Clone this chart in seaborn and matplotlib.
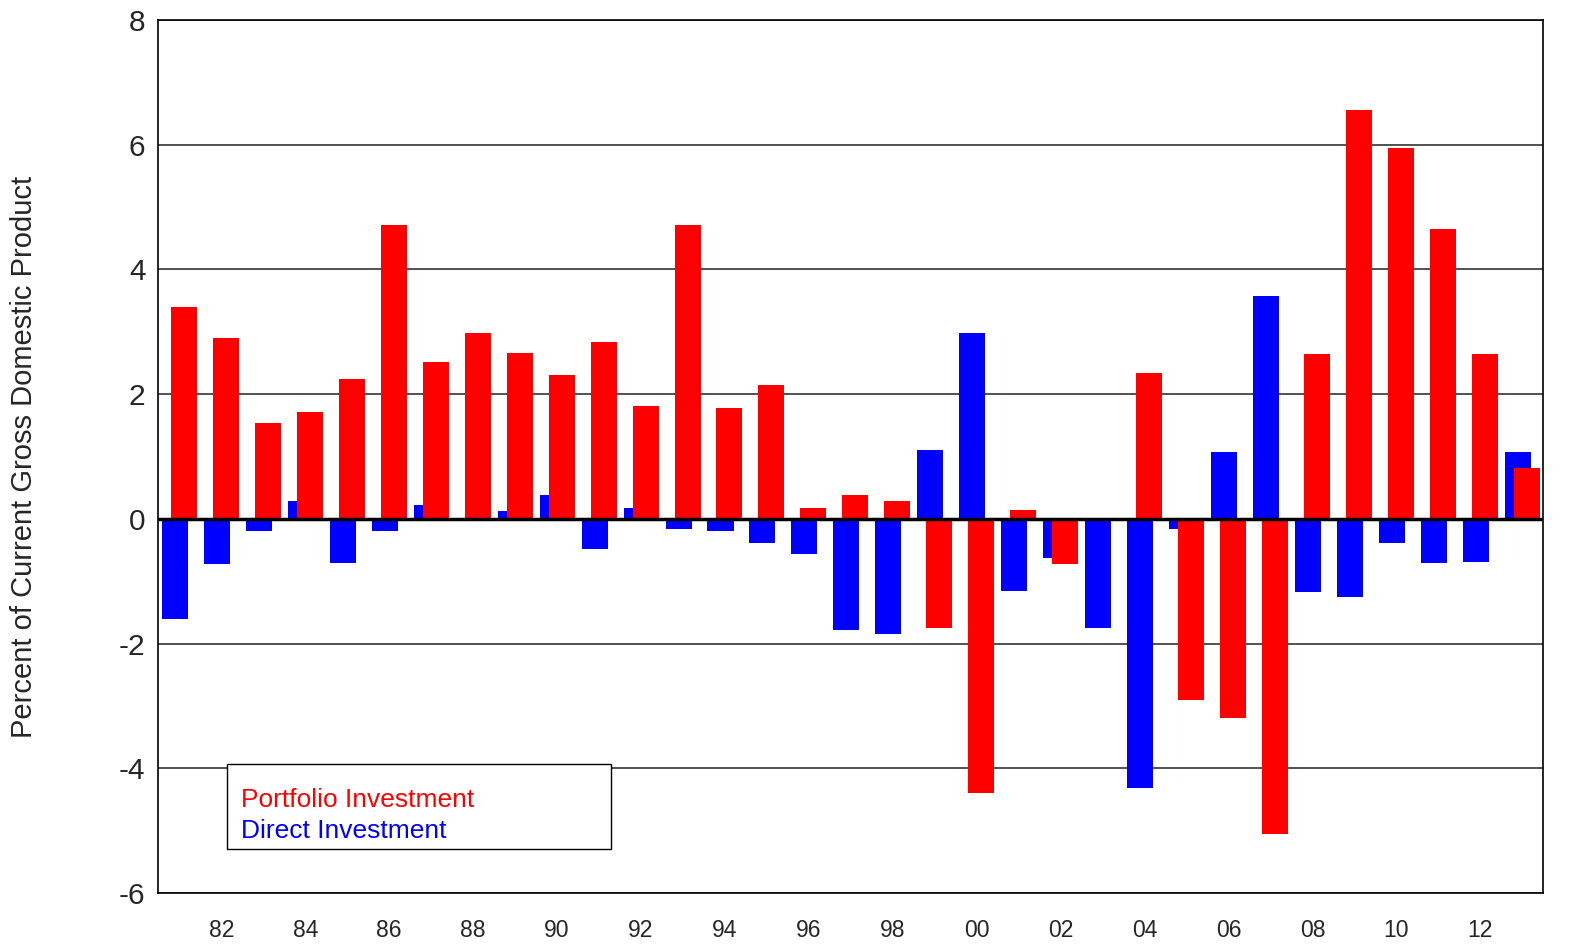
import matplotlib
matplotlib.use("Agg")
import matplotlib.pyplot as plt
import seaborn as sns
import pandas as pd
from matplotlib.patches import Rectangle

# years 1981-2013
years = list(range(1981, 2014))

portfolio = [3.40, 2.90, 1.54, 1.72, 2.25, 4.71, 2.52, 2.98, 2.66, 2.31,
             2.84, 1.81, 4.71, 1.78, 2.15, 0.17, 0.39, 0.28, -1.75, -4.40,
             0.15, -0.73, 0.02, 2.34, -2.90, -3.19, -5.05, 2.65, 6.55, 5.95,
             4.65, 2.65, 0.82]

direct = [-1.61, -0.73, -0.19, 0.29, -0.70, -0.19, 0.23, 0.0, 0.13, 0.39,
          -0.49, 0.18, -0.17, -0.20, -0.38, -0.56, -1.79, -1.84, 1.11, 2.98,
          -1.15, -0.62, -1.75, -4.31, -0.17, 1.07, 3.57, -1.17, -1.25, -0.39,
          -0.71, -0.69, 1.07]

tick_years = list(range(1982, 2013, 2))
tick_labels = [f"{y % 100:02d}" for y in tick_years]
y_ticks = [-6, -4, -2, 0, 2, 4, 6, 8]

shift = 0.107


def main():
    sns.set_style("white")
    plt.rcParams["font.family"] = ["Liberation Sans", "DejaVu Sans"]

    df = pd.DataFrame({"year": years, "portfolio": portfolio, "direct": direct})
    df["x_direct"] = df["year"] - shift
    df["x_port"] = df["year"] + shift

    fig = plt.figure(figsize=(15.69, 9.5), dpi=100)
    ax = fig.add_axes([0.1007, 0.06, 0.8827, 0.9189])

    for y in y_ticks:
        ax.axhline(y, color="#333333", lw=1.2, zorder=0)

    sns.barplot(data=df, x="x_direct", y="direct", native_scale=True,
                color="#0000FF", saturation=1, width=0.62, errorbar=None,
                ax=ax, zorder=2)
    sns.barplot(data=df, x="x_port", y="portfolio", native_scale=True,
                color="#FF0000", saturation=1, width=0.62, errorbar=None,
                ax=ax, zorder=3)
    for p in ax.patches:
        p.set_linewidth(0)

    ax.axhline(0, color="black", lw=2.5, zorder=4)

    ax.set_xlim(1980.49, 2013.49)
    ax.set_ylim(-6, 8)
    ax.set_xticks(tick_years)
    ax.set_xticklabels(tick_labels, fontsize=16.5)
    ax.set_yticks(y_ticks)
    ax.set_yticklabels([str(v) for v in y_ticks], fontsize=21.5)
    ax.tick_params(axis="x", length=0, pad=19)
    ax.tick_params(axis="y", length=0, pad=9)
    ax.set_xlabel("")
    ax.set_ylabel("Percent of Current Gross Domestic Product", fontsize=21, labelpad=58)

    for s in ax.spines.values():
        s.set_visible(True)
        s.set_color("black")
        s.set_linewidth(1.2)

    # legend box with coloured text only
    ax.add_patch(Rectangle((0.0498, 0.0504), 0.2773, 0.0974, transform=ax.transAxes,
                           facecolor="white", edgecolor="black", lw=1, zorder=6))
    ax.text(0.0599, 0.1060, "Portfolio Investment", color="#FF0000", fontsize=19,
            transform=ax.transAxes, va="center", zorder=7)
    ax.text(0.0599, 0.0715, "Direct Investment", color="#0000FF", fontsize=19,
            transform=ax.transAxes, va="center", zorder=7)

    fig.savefig("out.png", dpi=100)


if __name__ == "__main__":
    main()
